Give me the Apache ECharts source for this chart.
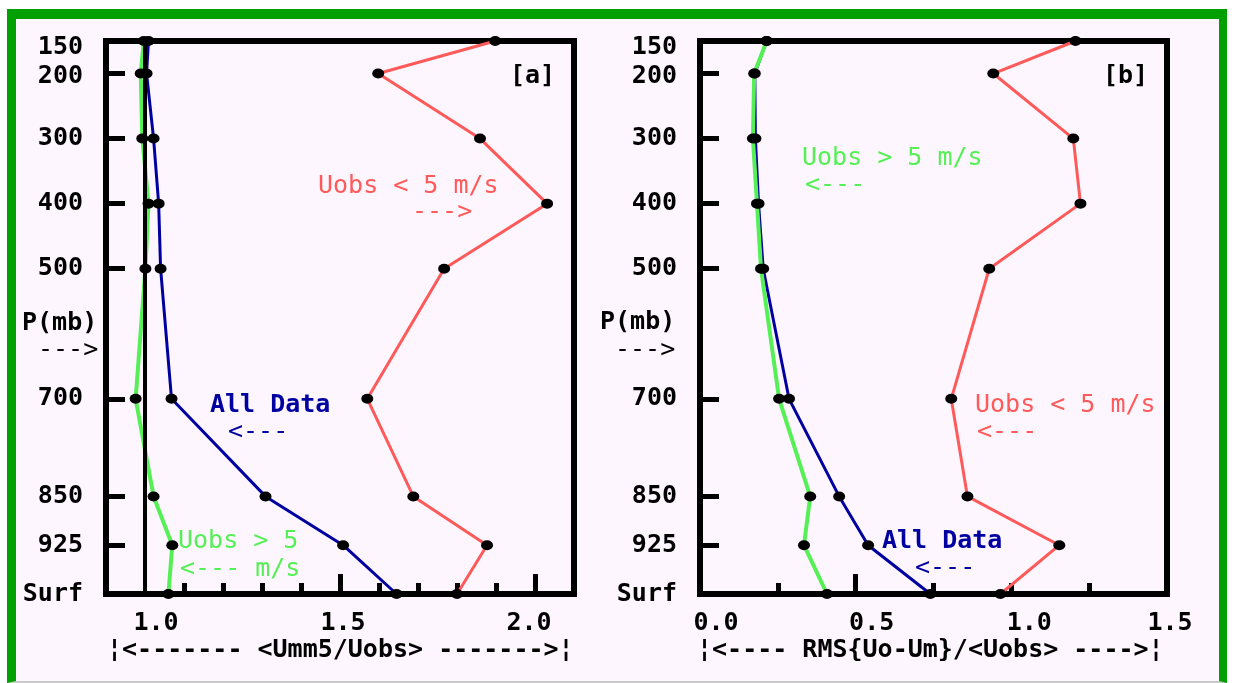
<!DOCTYPE html>
<html>
<head>
<meta charset="utf-8">
<script src="https://cdn.jsdelivr.net/npm/echarts@6/dist/echarts.min.js"></script>
<style>
  html, body { margin: 0; padding: 0; background: #fff; }
  #frame {
    position: absolute; left: 7px; top: 9px; width: 1220px; height: 674px;
    border-left: 9px solid #00a000; border-top: 10px solid #00a000; border-right: 8px solid #00a000;
    background: #fef6fe; border-bottom: 2px solid #c8c8c8; box-sizing: border-box;
  }
  #main { position: absolute; left: 0; top: 0; width: 1244px; height: 683px; }
</style>
</head>
<body>
<div id="frame"></div>
<div id="main"></div>
<script>
// pressure levels (mb), surface plotted at 1000
var levels = [150, 200, 300, 400, 500, 700, 850, 925, 1000];
var levelNames = ['150', '200', '300', '400', '500', '700', '850', '925', 'Surf'];
var levelTicks = [200, 300, 400, 500, 700, 850, 925];

// [a] <Umm5/Uobs>
var ratioLow  = [1.898, 1.598, 1.859, 2.031, 1.767, 1.570, 1.688, 1.877, 1.800]; // Uobs < 5 m/s
var ratioAll  = [1.009, 1.004, 1.022, 1.035, 1.040, 1.068, 1.309, 1.508, 1.645]; // All Data
var ratioHigh = [0.997, 0.989, 0.993, 1.009, 1.001, 0.976, 1.022, 1.070, 1.060]; // Uobs > 5
var ratioLabels = [1.0, 1.5, 2.0];
var ratioMinor = [1.1, 1.2, 1.3, 1.4, 1.6, 1.7, 1.8, 1.9];
var ratioMajor = [1.5, 2.0];

// [b] RMS{Uo-Um}/<Uobs>
var rmsLow  = [1.206, 0.942, 1.199, 1.222, 0.929, 0.807, 0.859, 1.154, 0.965];
var rmsAll  = [0.214, 0.176, 0.178, 0.188, 0.203, 0.286, 0.447, 0.540, 0.740];
var rmsHigh = [0.214, 0.174, 0.170, 0.183, 0.196, 0.254, 0.354, 0.334, 0.408];
var rmsLabels = [0.0, 0.5, 1.0, 1.5];
var rmsMinor = [0.25, 0.75, 1.0, 1.25];
var rmsMajor = [0.5];

var FONT = '"DejaVu Sans Mono", monospace';
var RED = '#ff5a5a', BLUE = '#0000a0', GREEN = '#55f055';

function pairs(xs) {
  return xs.map(function (v, i) { return [v, levels[i]]; });
}

function rich(pl, pr, pt) {
  return { fontFamily: FONT, fontSize: 25, fontWeight: 'bold', color: '#000',
           padding: [pt || 0, pr || 0, 0, pl || 0] };
}

// small nudges so tick labels sit where the original put them
var labelShift = { '1.0a': 11, '1.5a': 3, '2.0a': -6, '0.0b': 16, '0.5b': 16, '1.0b': 18, '1.5b': 3 };
var richX = {};
Object.keys(labelShift).forEach(function (k) {
  var d = labelShift[k];
  richX['k' + k.replace('.', '')] = d >= 0 ? rich(2 * d, 0) : rich(0, -2 * d);
});

function xAxisPair(grid, min, max, labels, minor, major, tag) {
  var tickStyle = { color: '#000', width: 5 };
  return [{
    type: 'value', gridIndex: grid, min: min, max: max, position: 'bottom',
    axisLine: { show: false }, splitLine: { show: false },
    axisTick: { show: true, inside: true, length: 11, customValues: minor, lineStyle: tickStyle },
    axisLabel: {
      customValues: labels, margin: 17, showMinLabel: true, showMaxLabel: true, hideOverlap: false,
      rich: richX,
      formatter: function (v) { var s = v.toFixed(1); return '{k' + (s + tag).replace('.', '') + '|' + s + '}'; }
    }
  }, {
    type: 'value', gridIndex: grid, min: min, max: max, position: 'bottom',
    axisLine: { show: false }, splitLine: { show: false },
    axisTick: { show: true, inside: true, length: 20, customValues: major, lineStyle: tickStyle },
    axisLabel: { show: false }
  }];
}

function yAxis(grid) {
  return {
    type: 'value', gridIndex: grid, min: 150, max: 1000, inverse: true, position: 'left',
    axisLine: { show: false }, splitLine: { show: false },
    axisTick: { show: true, inside: true, length: 19, customValues: levelTicks, lineStyle: { color: '#000', width: 5 } },
    axisLabel: {
      customValues: levels, margin: 23, showMinLabel: true, showMaxLabel: true, hideOverlap: false,
      rich: { n: rich(0, 0), p150: rich(0, 0, 12), p200: rich(0, 0, 6) },
      formatter: function (v) {
        var s = levelNames[levels.indexOf(v)];
        var k = v === 150 ? 'p150' : (v === 200 ? 'p200' : 'n');
        return '{' + k + '|' + s + '}';
      }
    }
  };
}

function line(name, xi, yi, data, color, width, extra) {
  var s = {
    name: name, type: 'line', xAxisIndex: xi, yAxisIndex: yi, data: pairs(data),
    symbol: 'circle', symbolSize: [12, 10], showSymbol: true,
    itemStyle: { color: '#000' },
    lineStyle: { color: color, width: width },
    animation: false, silent: true
  };
  if (extra) Object.keys(extra).forEach(function (k) { s[k] = extra[k]; });
  return s;
}

function txt(s, x, y, color, bold) {
  return {
    type: 'text', x: x, y: y, silent: true,
    style: { text: s, fill: color, font: (bold ? 'bold ' : '') + '25px ' + FONT, verticalAlign: 'middle', align: 'left' }
  };
}

var chart = echarts.init(document.getElementById('main'));
chart.setOption({
  backgroundColor: 'transparent',
  animation: false,
  grid: [
    { left: 106, top: 41, width: 468, height: 553, show: true, borderColor: '#000', borderWidth: 6, backgroundColor: 'transparent' },
    { left: 700, top: 41, width: 467, height: 553, show: true, borderColor: '#000', borderWidth: 6, backgroundColor: 'transparent' }
  ],
  xAxis: xAxisPair(0, 0.9, 2.1, ratioLabels, ratioMinor, ratioMajor, 'a')
    .concat(xAxisPair(1, 0, 1.5, rmsLabels, rmsMinor, rmsMajor, 'b')),
  yAxis: [yAxis(0), yAxis(1)],
  series: [
    line('ratio low', 0, 0, ratioLow, RED, 3, {
      markLine: {
        silent: true, symbol: 'none', label: { show: false },
        lineStyle: { color: '#000', width: 4, type: 'solid' },
        data: [{ xAxis: 1.0 }]
      }
    }),
    line('ratio high', 0, 0, ratioHigh, GREEN, 4),
    line('ratio all', 0, 0, ratioAll, BLUE, 3),
    line('rms low', 2, 1, rmsLow, RED, 3),
    line('rms all', 2, 1, rmsAll, BLUE, 3),
    line('rms high', 2, 1, rmsHigh, GREEN, 4)
  ],
  graphic: [
    txt('[a]', 510, 76, '#000', true),
    txt('Uobs < 5 m/s', 318, 186, RED),
    txt('--->', 412, 212, RED),
    txt('All Data', 210, 405, BLUE, true),
    txt('<---', 228, 432, BLUE),
    txt('Uobs > 5', 178, 541, GREEN),
    txt('<--- m/s', 180, 569, GREEN),
    txt('P(mb)', 22, 323, '#000', true),
    txt('--->', 38, 350, '#000'),
    txt('¦<------- <Umm5/Uobs> ------->¦', 107, 650, '#000', true),

    txt('[b]', 1103, 76, '#000', true),
    txt('Uobs > 5 m/s', 802, 158, GREEN),
    txt('<---', 805, 185, GREEN),
    txt('Uobs < 5 m/s', 975, 405, RED),
    txt('<---', 977, 432, RED),
    txt('All Data', 882, 541, BLUE, true),
    txt('<---', 915, 568, BLUE),
    txt('P(mb)', 600, 322, '#000', true),
    txt('--->', 615, 350, '#000'),
    txt('¦<---- RMS{Uo-Um}/<Uobs> ---->¦', 697, 650, '#000', true)
  ]
});
</script>
</body>
</html>
